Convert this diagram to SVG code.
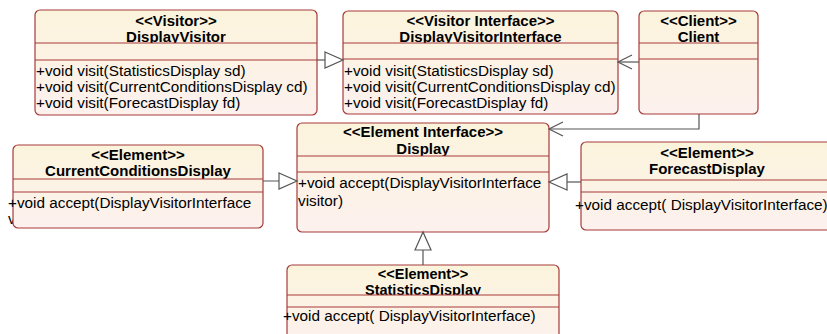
<svg xmlns="http://www.w3.org/2000/svg" width="827" height="334" viewBox="0 0 827 334">
<style>
.box{fill:url(#g);stroke:#a83a3a;stroke-width:1.2}
.div{stroke:#a83a3a;stroke-width:1.2}
.h{font-family:"Liberation Sans",Arial,sans-serif;font-size:15px;font-weight:bold;text-anchor:middle;fill:#000}
.m{font-family:"Liberation Sans",Arial,sans-serif;font-size:15.3px;fill:#000}
.c{stroke:#555;stroke-width:1.2;fill:none}
</style>
<defs>
<linearGradient id="g" x1="0" y1="0" x2="0" y2="1">
<stop offset="0" stop-color="#fbf4dc"/>
<stop offset="1" stop-color="#fdf1ee"/>
</linearGradient>
<marker id="tri" markerUnits="userSpaceOnUse" markerWidth="22" markerHeight="20" refX="19" refY="9" orient="auto">
<path d="M1,1 L19,9 L1,17 Z" fill="#fff" stroke="#555" stroke-width="1.2"/>
</marker>
<marker id="open" markerUnits="userSpaceOnUse" markerWidth="18" markerHeight="18" refX="15" refY="8" orient="auto">
<path d="M1,1 L15,8 L1,15" fill="none" stroke="#555" stroke-width="1.2"/>
</marker>
<clipPath id="c1"><rect x="35" y="10" width="282" height="33"/></clipPath>
<clipPath id="c2"><rect x="343" y="11" width="275" height="32"/></clipPath>
<clipPath id="c3"><rect x="639" y="11" width="119" height="32"/></clipPath>
<clipPath id="c4"><rect x="13" y="145" width="250" height="34"/></clipPath>
<clipPath id="c5"><rect x="297" y="123" width="252" height="33"/></clipPath>
<clipPath id="c6"><rect x="581" y="142" width="252" height="38"/></clipPath>
<clipPath id="c7"><rect x="287" y="265" width="272" height="30"/></clipPath>
</defs>
<rect width="827" height="334" fill="#fff"/>

<g id="DisplayVisitor">
<rect class="box" x="35" y="10" width="282" height="105" rx="5"/>
<g clip-path="url(#c1)">
<text class="h" x="176" y="26">&lt;&lt;Visitor&gt;&gt;</text>
<text class="h" x="176" y="42">DisplayVisitor</text>
</g>
<line class="div" x1="35" y1="43" x2="317" y2="43"/>
<line class="div" x1="35" y1="60" x2="317" y2="60"/>
<text class="m" x="36" y="76">+void visit(StatisticsDisplay sd)</text>
<text class="m" x="36" y="92">+void visit(CurrentConditionsDisplay cd)</text>
<text class="m" x="36" y="108">+void visit(ForecastDisplay fd)</text>
</g>

<g id="DisplayVisitorInterface">
<rect class="box" x="343" y="11" width="275" height="103" rx="5"/>
<g clip-path="url(#c2)">
<text class="h" x="480.5" y="26">&lt;&lt;Visitor Interface&gt;&gt;</text>
<text class="h" x="480.5" y="42">DisplayVisitorInterface</text>
</g>
<line class="div" x1="343" y1="43" x2="618" y2="43"/>
<line class="div" x1="343" y1="59" x2="618" y2="59"/>
<text class="m" x="344" y="76">+void visit(StatisticsDisplay sd)</text>
<text class="m" x="344" y="92">+void visit(CurrentConditionsDisplay cd)</text>
<text class="m" x="344" y="108">+void visit(ForecastDisplay fd)</text>
</g>

<g id="Client">
<rect class="box" x="639" y="11" width="119" height="103" rx="5"/>
<g clip-path="url(#c3)">
<text class="h" x="698.5" y="26">&lt;&lt;Client&gt;&gt;</text>
<text class="h" x="698.5" y="42">Client</text>
</g>
<line class="div" x1="639" y1="43" x2="758" y2="43"/>
<line class="div" x1="639" y1="59" x2="758" y2="59"/>
</g>

<g id="CurrentConditionsDisplay">
<text class="m" x="8" y="224">visitor)</text>
<rect class="box" x="13" y="145" width="250" height="83" rx="5"/>
<g clip-path="url(#c4)">
<text class="h" x="138" y="160">&lt;&lt;Element&gt;&gt;</text>
<text class="h" x="138" y="176">CurrentConditionsDisplay</text>
</g>
<line class="div" x1="13" y1="179" x2="263" y2="179"/>
<line class="div" x1="13" y1="192" x2="263" y2="192"/>
<text class="m" x="8" y="208">+void accept(DisplayVisitorInterface</text>
</g>

<g id="Display">
<rect class="box" x="297" y="123" width="252" height="109" rx="5"/>
<g clip-path="url(#c5)">
<text class="h" x="423" y="137">&lt;&lt;Element Interface&gt;&gt;</text>
<text class="h" x="423" y="154">Display</text>
</g>
<line class="div" x1="297" y1="156" x2="549" y2="156"/>
<line class="div" x1="297" y1="172" x2="549" y2="172"/>
<text class="m" x="298" y="188">+void accept(DisplayVisitorInterface</text>
<text class="m" x="298" y="206">visitor)</text>
</g>

<g id="ForecastDisplay">
<rect class="box" x="581" y="142" width="252" height="88" rx="5"/>
<g clip-path="url(#c6)">
<text class="h" x="707" y="158">&lt;&lt;Element&gt;&gt;</text>
<text class="h" x="707" y="174">ForecastDisplay</text>
</g>
<line class="div" x1="581" y1="180" x2="833" y2="180"/>
<line class="div" x1="581" y1="192" x2="833" y2="192"/>
<text class="m" x="575" y="210">+void accept( DisplayVisitorInterface)</text>
</g>

<g id="StatisticsDisplay">
<rect class="box" x="287" y="265" width="272" height="80" rx="5"/>
<g clip-path="url(#c7)">
<text class="h" x="423" y="279" style="font-size:14.5px">&lt;&lt;Element&gt;&gt;</text>
<text class="h" x="423" y="295" style="font-size:14.5px">StatisticsDisplay</text>
</g>
<line class="div" x1="287" y1="295" x2="559" y2="295"/>
<line class="div" x1="287" y1="307" x2="559" y2="307"/>
<text class="m" x="283" y="321">+void accept( DisplayVisitorInterface)</text>
</g>

<g id="connectors">
<line class="c" x1="317" y1="60" x2="343" y2="60" marker-end="url(#tri)"/>
<line class="c" x1="639" y1="62" x2="618" y2="62" marker-end="url(#open)"/>
<polyline class="c" points="699,114 699,129 549,129" marker-end="url(#open)"/>
<line class="c" x1="263" y1="181" x2="297" y2="181" marker-end="url(#tri)"/>
<line class="c" x1="581" y1="182" x2="549" y2="182" marker-end="url(#tri)"/>
<line class="c" x1="423" y1="265" x2="423" y2="232" marker-end="url(#tri)"/>
</g>
</svg>
